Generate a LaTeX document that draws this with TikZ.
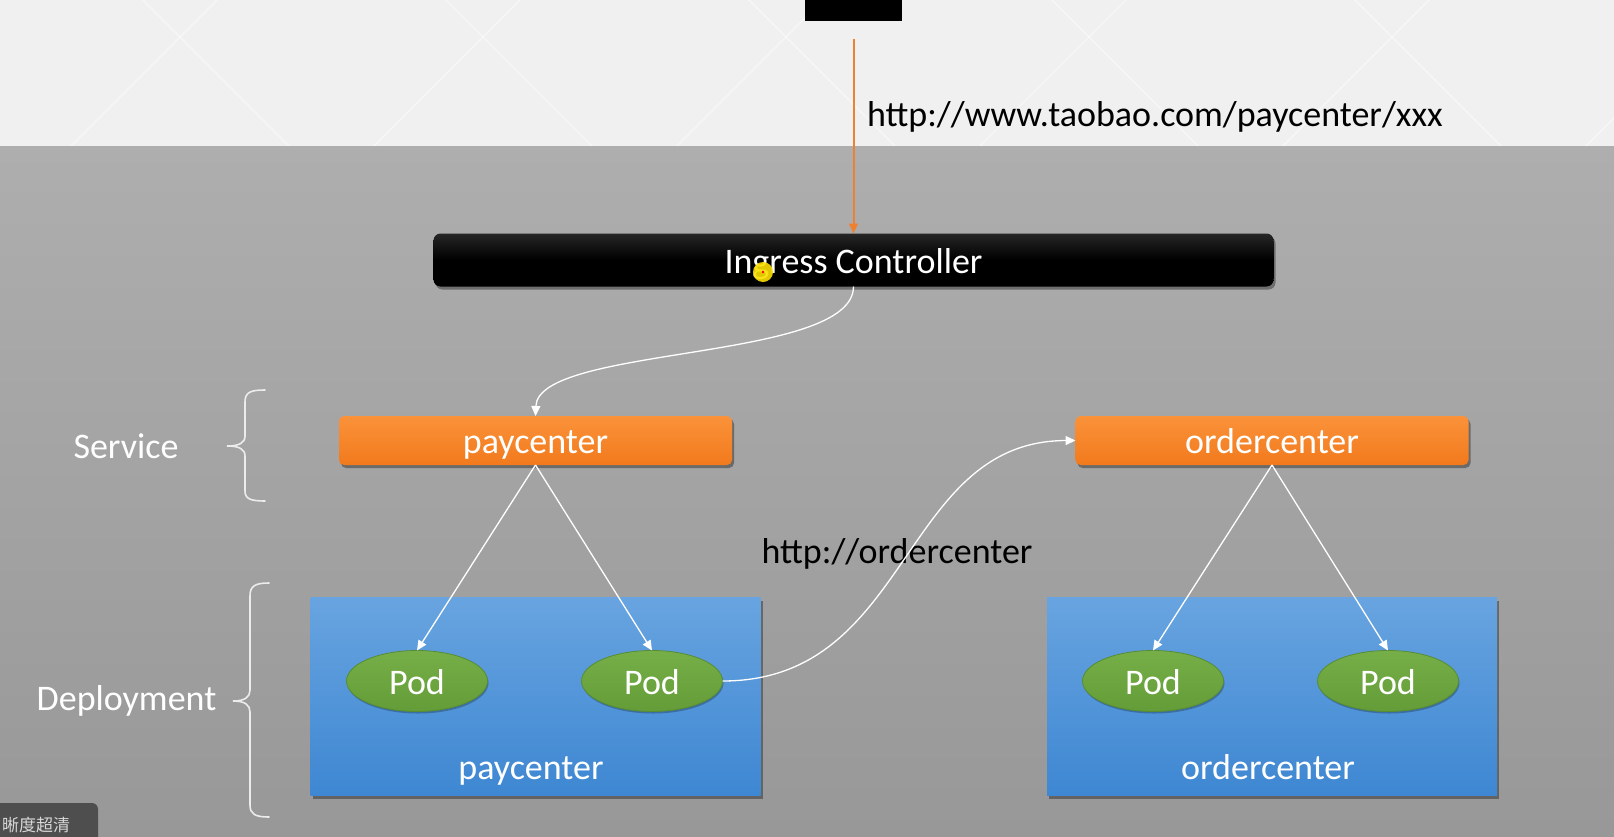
\documentclass[tikz,border=0pt]{standalone}
\usepackage{fontspec}
\setmainfont{Carlito}
\newfontfamily\cjk{Noto Sans CJK SC}
\usetikzlibrary{shapes.geometric,arrows.meta,shadows}
\definecolor{bandgray}{RGB}{240,240,240}
\definecolor{gtop}{RGB}{174,174,174}
\definecolor{gbot}{RGB}{152,152,152}
\definecolor{orA}{RGB}{250,146,58}
\definecolor{orB}{RGB}{242,122,28}
\definecolor{blA}{RGB}{104,164,224}
\definecolor{blB}{RGB}{62,135,210}
\definecolor{grA}{RGB}{118,175,72}
\definecolor{grB}{RGB}{100,157,55}
\definecolor{grE}{RGB}{88,140,52}
\definecolor{arrowor}{RGB}{238,128,50}
\definecolor{bracecol}{RGB}{236,236,236}
\definecolor{ingtop}{RGB}{38,38,38}
\definecolor{ovlgray}{RGB}{78,78,78}
\definecolor{ovltext}{RGB}{215,215,215}
\begin{document}
\begin{tikzpicture}[x=1pt,y=-1pt,
  font=\fontsize{36}{43}\selectfont,
  every node/.style={inner sep=0pt, outer sep=0pt, text height=26.6pt, text depth=0pt},
  shadowed/.style={drop shadow={shadow xshift=2pt, shadow yshift=-3pt, opacity=0.35, fill=black}},
  ingressbox/.style={rectangle, rounded corners=7pt, minimum width=840pt, minimum height=53pt,
    top color=ingtop, bottom color=black, middle color=black, text=white, shadowed},
  svcbox/.style={rectangle, rounded corners=5pt, minimum width=393pt, minimum height=49pt,
    top color=orA, bottom color=orB, text=white, shadowed},
  deploybox/.style={rectangle, minimum width=450pt, minimum height=198pt,
    top color=blA, bottom color=blB, shadowed},
  podnode/.style={ellipse, minimum width=141pt, minimum height=61pt,
    top color=grA, bottom color=grB, draw=grE, line width=0.8pt, text=white,
    drop shadow={shadow xshift=1pt, shadow yshift=-2pt, opacity=0.25, fill=black}},
  whitelbl/.style={text=white},
  darklbl/.style={text=black},
  conn/.style={draw=white, line width=1.3pt, -{Triangle[length=10pt,width=9pt]}},
  orconn/.style={draw=arrowor, line width=2pt, -{Triangle[length=10pt,width=9pt]}},
  bracestyle/.style={draw=bracecol, line width=1.6pt, line cap=round},
  patline/.style={draw=white, line width=1.2pt, opacity=0.5}
]
\useasboundingbox (0,0) rectangle (1614,836);
% backgrounds
\fill[bandgray] (0,0) rectangle (1614,146);
\begin{scope}
  \clip (0,0) rectangle (1614,145);
  \foreach \cx in {-123,180,483,786,1089,1392,1695} {
    \draw[patline] (\cx-47,-10) -- (\cx+110,147);
    \draw[patline] (\cx+47,-10) -- (\cx-110,147);
  }
\end{scope}
\shade[top color=gtop, bottom color=gbot] (0,146) rectangle (1614,836);

% top client box
\node[fill=black, minimum width=97pt, minimum height=20pt] (client) at (853.5,8) {};
\coordinate (ostart) at (853.5,39);

% main nodes
\node[ingressbox] (ing) at (853.5,260) {Ingress Controller};
\node[svcbox] (paysvc) at (535.5,440.5) {paycenter};
\node[svcbox] (ordsvc) at (1272,440.5) {ordercenter};
\node[deploybox] (paydep) at (535.5,696.5) {};
\node[deploybox] (orddep) at (1272,696.5) {};
\node[whitelbl] (paydeplbl) at (531,766) {paycenter};
\node[whitelbl] (orddeplbl) at (1268,766) {ordercenter};
\node[podnode] (p1) at (417,681) {Pod};
\node[podnode] (p2) at (652,681) {Pod};
\node[podnode] (p3) at (1153,681) {Pod};
\node[podnode] (p4) at (1388,681) {Pod};

% labels
\node[whitelbl] (svclbl) at (126,445) {Service};
\node[whitelbl] (deplbl) at (126.5,697) {Deployment};
\node[darklbl, anchor=west] (url) at (867,113) {http://www.taobao.com/paycenter/xxx};
\node[darklbl] (ordurl) at (897,550) {http://ordercenter};

% braces
\draw[bracestyle] (265,390) .. controls (251,390) and (245,392) .. (245,402) -- (245,436)
  .. controls (245,443) and (239,446) .. (227,446) .. controls (239,446) and (245,449) .. (245,456)
  -- (245,491) .. controls (245,499) and (251,501) .. (265,501);
\draw[bracestyle] (269,583) .. controls (255,583) and (250,586) .. (250,596) -- (250,690)
  .. controls (250,697) and (245,701) .. (233,701) .. controls (245,701) and (250,705) .. (250,712)
  -- (250,805) .. controls (250,814) and (255,817) .. (269,817);

% connectors
\draw[orconn] (ostart) -- (ing.north);
\draw[conn] (ing.south) .. controls (853.5,362) and (538,345) .. (paysvc.north);
\draw[conn] (paysvc.south) -- (p1.north);
\draw[conn] (paysvc.south) -- (p2.north);
\draw[conn] (ordsvc.south) -- (p3.north);
\draw[conn] (ordsvc.south) -- (p4.north);
\draw[conn] (p2.east) .. controls (912,681) and (900,441) .. (ordsvc.west);

% mouse pointer highlight
\fill[fill={rgb,255:red,250;green,222;blue,0}, opacity=0.9] (763,272) circle (10pt);
\fill[red] (763,272) circle (1.3pt);

% bottom-left overlay
\fill[ovlgray, rounded corners=6pt] (-10,803) -- (98,803) -- (98,850) -- (-10,850) -- cycle;
\node[anchor=base west, text=ovltext, font=\cjk\fontsize{17}{19}\selectfont, text height=, text depth=] (quality) at (2,831) {晰度超清};
\end{tikzpicture}
\end{document}
